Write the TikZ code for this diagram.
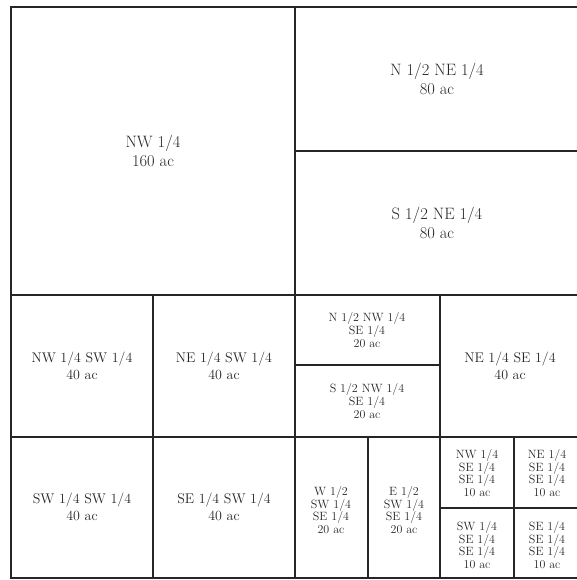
\documentclass[tikz,border=0pt]{standalone}
\begin{document}
\begin{tikzpicture}[x=1pt,y=-1pt,
    tract/.style={align=center,text=black!85,font=\fontsize{16.5}{18.3}\selectfont},
    forty/.style={align=center,text=black!85,font=\fontsize{14}{16.7}\selectfont},
    small/.style={align=center,text=black!85,font=\fontsize{12}{12.7}\selectfont}]
    \useasboundingbox (0,0) rectangle (577,580);
    \draw[black!85,line width=1.5pt] (11,7) rectangle (580,578);
    \draw[black!85,line width=1.3pt] (295,7)--(295,578) (11,295)--(580,295)
      (295,151)--(580,151) (11,437)--(580,437) (153,295)--(153,578)
      (440,295)--(440,578) (295,365)--(440,365) (368,437)--(368,578)
      (514,437)--(514,578) (440,508)--(580,508);
    % quarter sections
    \node[tract] (nw) at (153,151) {NW 1/4\\160 ac};
    \node[tract] (nne) at (437,79) {N 1/2 NE 1/4\\80 ac};
    \node[tract] (sne) at (437,223) {S 1/2 NE 1/4\\80 ac};
    % forties
    \node[forty] (nwsw) at (82,366) {NW 1/4 SW 1/4\\40 ac};
    \node[forty] (nesw) at (224,366) {NE 1/4 SW 1/4\\40 ac};
    \node[forty] (swsw) at (82,507) {SW 1/4 SW 1/4\\40 ac};
    \node[forty] (sesw) at (224,507) {SE 1/4 SW 1/4\\40 ac};
    \node[forty] (nese) at (510,366) {NE 1/4 SE 1/4\\40 ac};
    % twenties
    \node[small] (nnw) at (367,330) {N 1/2 NW 1/4\\SE 1/4\\20 ac};
    \node[small] (snw) at (367,401) {S 1/2 NW 1/4\\SE 1/4\\20 ac};
    \node[small] (wsw) at (331,510) {W 1/2\\SW 1/4\\SE 1/4\\20 ac};
    \node[small] (esw) at (404,510) {E 1/2\\SW 1/4\\SE 1/4\\20 ac};
    % tens
    \node[small] (nwse) at (477,473) {NW 1/4\\SE 1/4\\SE 1/4\\10 ac};
    \node[small] (nese2) at (547,473) {NE 1/4\\SE 1/4\\SE 1/4\\10 ac};
    \node[small] (swse) at (477,545) {SW 1/4\\SE 1/4\\SE 1/4\\10 ac};
    \node[small] (sese) at (547,545) {SE 1/4\\SE 1/4\\SE 1/4\\10 ac};
\end{tikzpicture}
\end{document}
